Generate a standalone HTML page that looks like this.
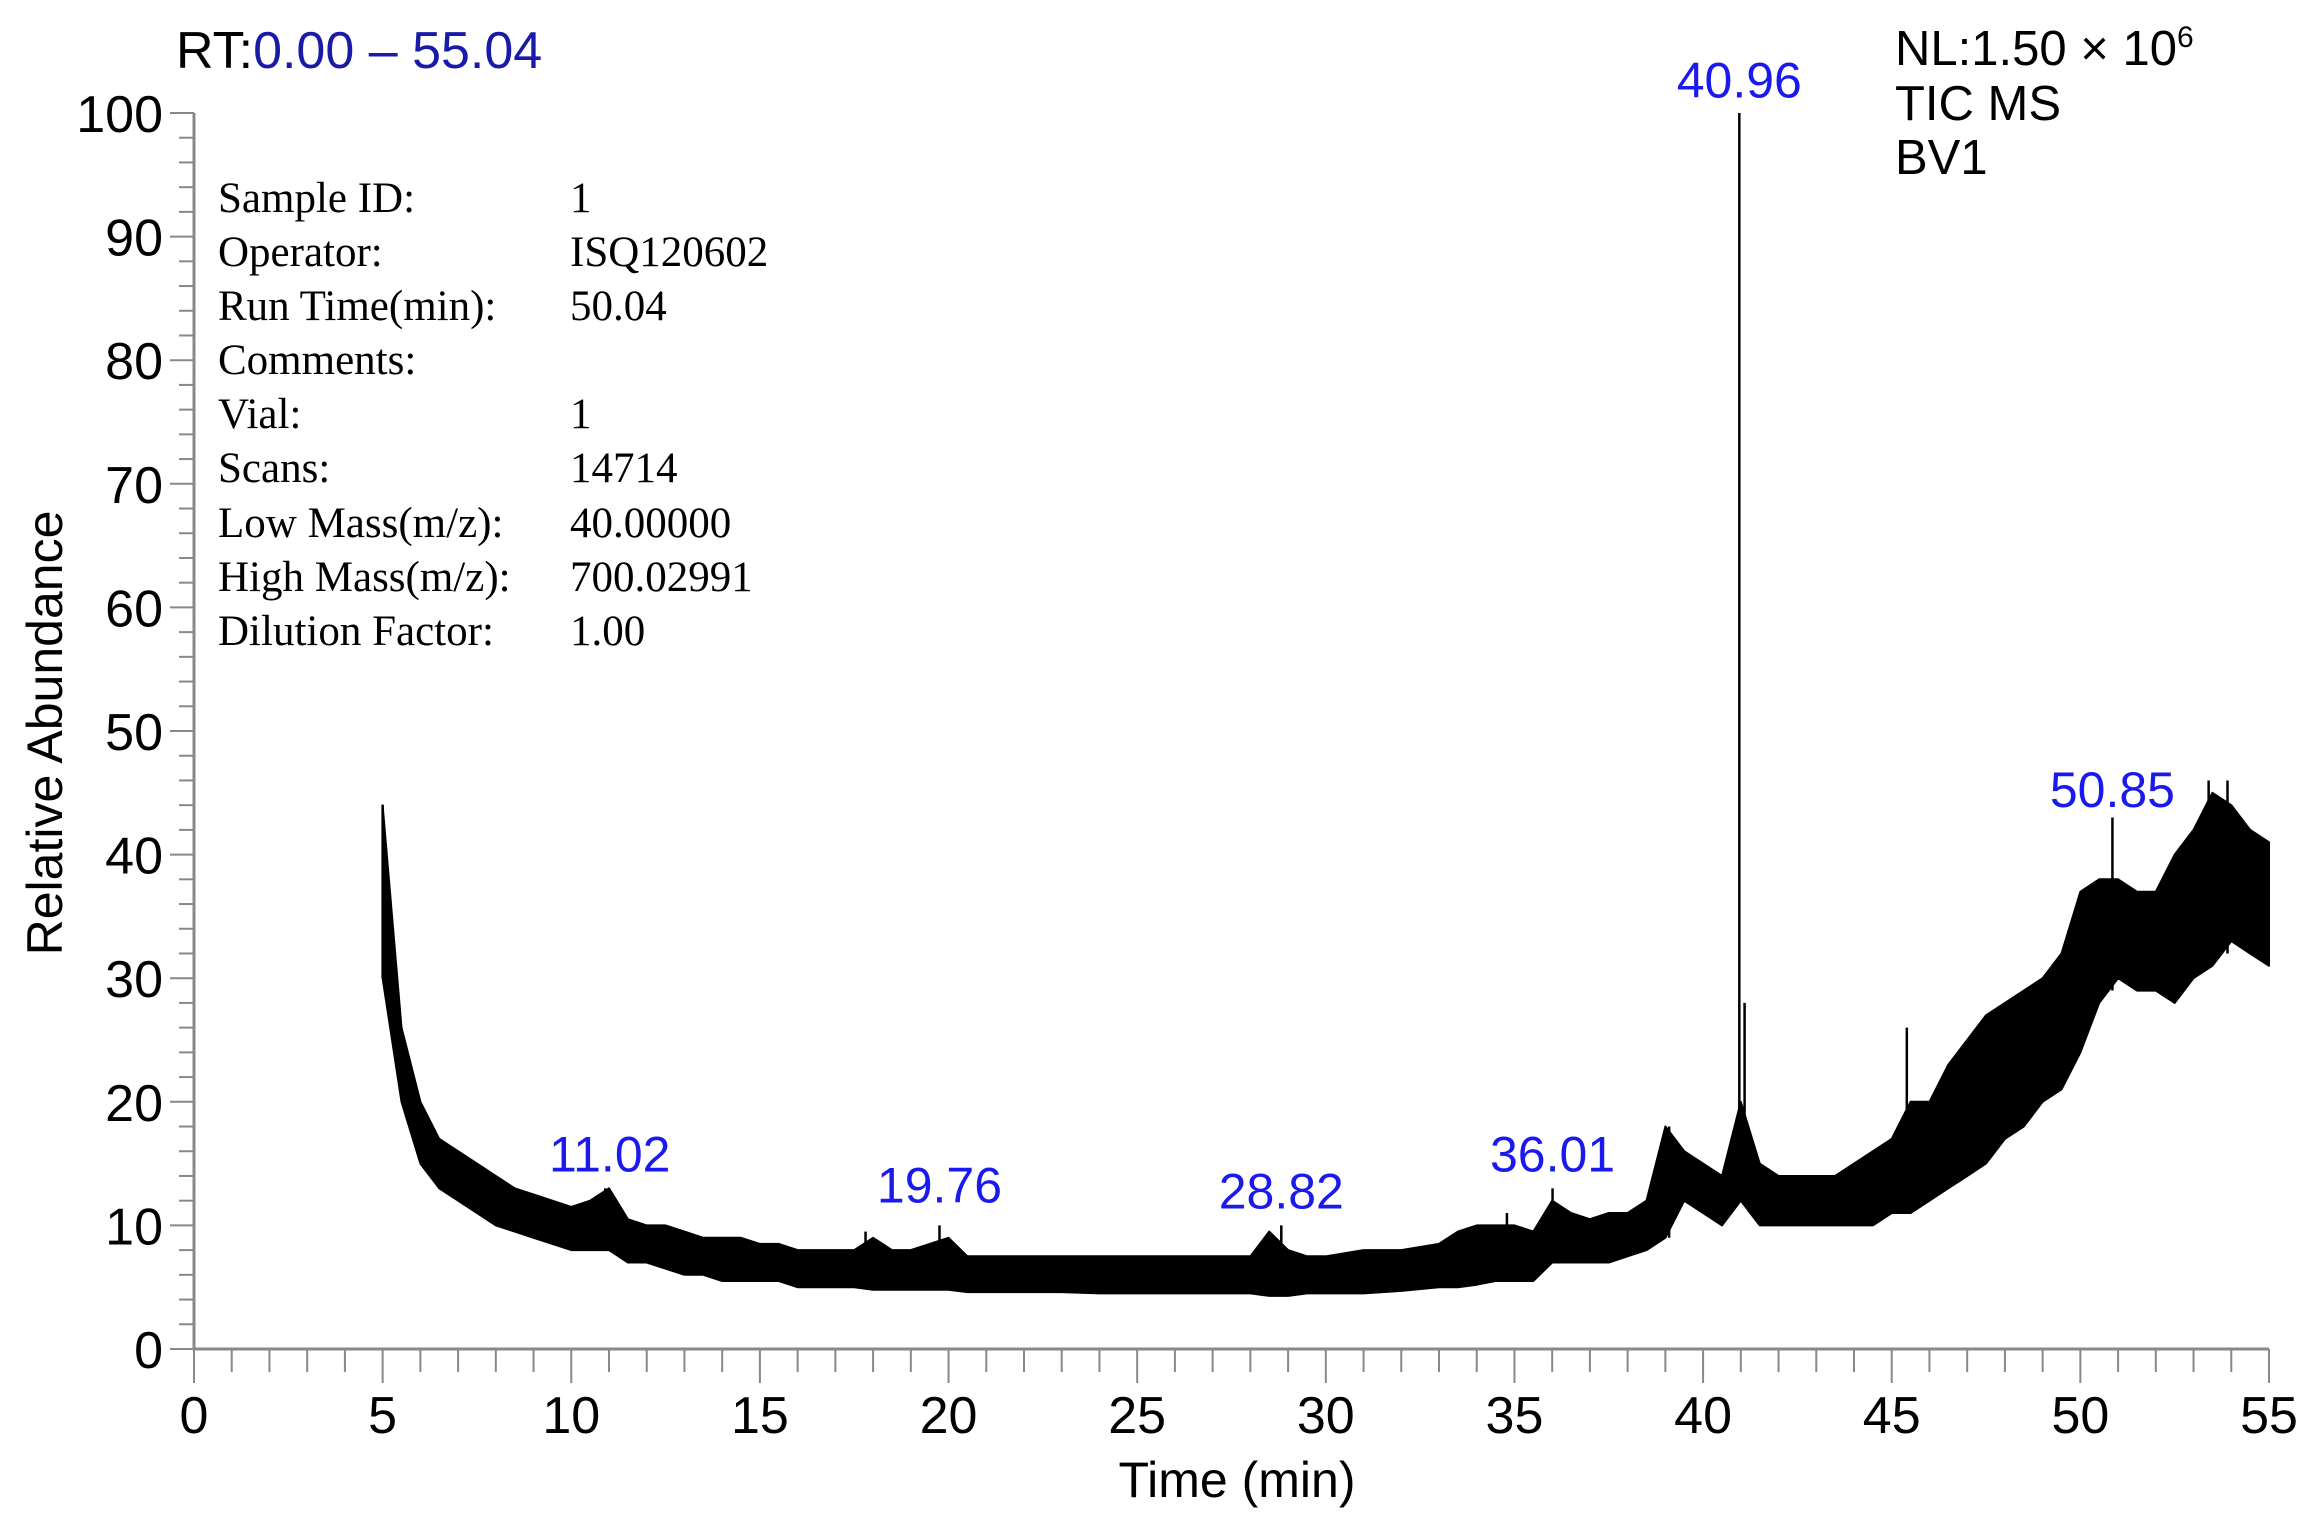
<!DOCTYPE html>
<html><head><meta charset="utf-8">
<style>
html,body{margin:0;padding:0;background:#fff;}
svg{display:block;}
.t{font-family:"Liberation Sans",sans-serif;}
.s{font-family:"Liberation Serif",serif;font-size:43px;fill:#000;}
</style></head>
<body>
<svg id="chart" width="2323" height="1519" viewBox="0 0 2323 1519" xmlns="http://www.w3.org/2000/svg">
<text class="t" x="176" y="68" font-size="52">RT:<tspan fill="#1a1aa8">0.00 – 55.04</tspan></text>
<text class="t" x="1895" y="65" font-size="49">NL:1.50 × 10<tspan font-size="30" dy="-18">6</tspan></text>
<text class="t" x="1895" y="120" font-size="49">TIC MS</text>
<text class="t" x="1895" y="174" font-size="49">BV1</text>
<text class="t" transform="translate(62,733) rotate(-90)" text-anchor="middle" font-size="50">Relative Abundance</text>
<text class="t" x="1237" y="1497" text-anchor="middle" font-size="50">Time (min)</text>
<g id="info"></g>
<g id="axes"></g>
<g id="trace"></g>
<g id="labels"></g>
</svg>
<script>
const times=[5,5.5,6,6.5,7,7.5,8,8.5,9,9.5,10,10.5,11,11.5,12,12.5,13,13.5,14,14.5,15,15.5,16,16.5,17,17.5,18,18.5,19,19.5,20,20.5,21,22,23,24,25,26,27,28,28.5,29,29.5,30,31,32,33,33.5,34,34.5,35,35.5,36,36.5,37,37.5,38,38.5,39,39.5,40,40.5,41,41.5,42,42.5,43,43.5,44,44.5,45,45.5,46,46.5,47,47.5,48,48.5,49,49.5,50,50.5,51,51.5,52,52.5,53,53.5,54,54.5,55];
const hiVals=[44,26,20,17,16,15,14,13,12.5,12,11.5,12,13,10.5,10,10,9.5,9,9,9,8.5,8.5,8,8,8,8,9,8,8,8.5,9,7.5,7.5,7.5,7.5,7.5,7.5,7.5,7.5,7.5,9.5,8,7.5,7.5,8,8,8.5,9.5,10,10,10,9.5,12,11,10.5,11,11,12,18,16,15,14,20,15,14,14,14,14,15,16,17,20,20,23,25,27,28,29,30,32,37,38,38,37,37,40,42,45,44,42,41];
const loVals=[30,20,15,13,12,11,10,9.5,9,8.5,8,8,8,7,7,6.5,6,6,5.5,5.5,5.5,5.5,5,5,5,5,4.8,4.8,4.8,4.8,4.8,4.6,4.6,4.6,4.6,4.5,4.5,4.5,4.5,4.5,4.3,4.3,4.5,4.5,4.5,4.7,5,5,5.2,5.5,5.5,5.5,7,7,7,7,7.5,8,9,12,11,10,12,10,10,10,10,10,10,10,11,11,12,13,14,15,17,18,20,21,24,28,30,29,29,28,30,31,33,32,31,29];
const spikeTimes=[5.0,10.9,17.8,19.76,28.5,28.82,34.8,36.01,39.1,40.96,41.1,45.4,50.85,53.4,53.9];
const spikeVals=[44,13,9.5,10,9.5,10,11,13,18,100,28,26,43,46,46];
const spikeBase=[30,8,5,5,4.5,4.5,5.5,7,9,12,12,12,29,32,32];
const peakLabels=["11.02","19.76","28.82","36.01","40.96","50.85"];
const peakLabelTimes=[11.02,19.76,28.82,36.01,40.96,50.85];
const peakLabelVals=[13.7,11.2,10.7,13.7,100.6,43.2];
const xTicks=[0,5,10,15,20,25,30,35,40,45,50,55];
const yTicks=[0,10,20,30,40,50,60,70,80,90,100];
const infoKeys=["Sample ID:","Operator:","Run Time(min):","Comments:","Vial:","Scans:","Low Mass(m/z):","High Mass(m/z):","Dilution Factor:"];
const infoVals=["1","ISQ120602","50.04","","1","14714","40.00000","700.02991","1.00"];

const NS="http://www.w3.org/2000/svg";
const X0=194,X1=2269,Y0=1349,Y1=113;
const xs=t=>X0+(t/55)*(X1-X0);
const ys=v=>Y0-(v/100)*(Y0-Y1);
function mk(tag,attrs,parent){const e=document.createElementNS(NS,tag);for(const k in attrs)e.setAttribute(k,attrs[k]);parent.appendChild(e);return e;}
const axes=document.getElementById('axes');
let l=mk('line',{x1:X0,y1:Y0,x2:X1,y2:Y0,stroke:'#888','stroke-width':3},axes);


l=mk('line',{x1:X0,y1:Y0,x2:X0,y2:Y1,stroke:'#888','stroke-width':3},axes);


for(let i=0;i<=55;i++){const major=i%5===0;const t=mk('line',{x1:xs(i),y1:Y0,x2:xs(i),y2:Y0+(major?34:23),stroke:'#888','stroke-width':2},axes);

}
for(let v=0;v<=100;v+=2){const major=v%10===0;const t=mk('line',{x1:X0,y1:ys(v),x2:X0-(major?24:15),y2:ys(v),stroke:'#888','stroke-width':2},axes);

}
xTicks.forEach(v=>{const t=mk('text',{x:xs(v),y:1433,'text-anchor':'middle','font-size':52,class:'t'},axes);t.textContent=v;

});
yTicks.forEach(v=>{const t=mk('text',{x:163,y:ys(v)+19,'text-anchor':'end','font-size':52,class:'t'},axes);t.textContent=v;

});
const info=document.getElementById('info');
const rowY=[212,266,320,374,428,482,537,591,645];
infoKeys.forEach((k,i)=>{const a=mk('text',{x:218,y:rowY[i],class:'s'},info);a.textContent=k;


const b=mk('text',{x:570,y:rowY[i],class:'s'},info);b.textContent=infoVals[i];

});
const trace=document.getElementById('trace');
let d='M'+times.map((t,i)=>xs(t).toFixed(1)+','+ys(hiVals[i]).toFixed(1)).join(' L');
for(let i=times.length-1;i>=0;i--)d+=' L'+xs(times[i]).toFixed(1)+','+ys(loVals[i]).toFixed(1);
d+='Z';
const band=mk('path',{d:d,fill:'#000',stroke:'#000','stroke-width':2,'stroke-linejoin':'round'},trace);


spikeTimes.forEach((t,i)=>{const s=mk('line',{x1:xs(t),y1:ys(spikeBase[i]),x2:xs(t),y2:ys(spikeVals[i]),stroke:'#000','stroke-width':2.5},trace);

});
const labels=document.getElementById('labels');
peakLabels.forEach((p,i)=>{const t=mk('text',{x:xs(peakLabelTimes[i]),y:ys(peakLabelVals[i])-8,'text-anchor':'middle','font-size':50,fill:'#1a1aee',class:'t'},labels);t.textContent=p;

});
</script>
</body></html>
